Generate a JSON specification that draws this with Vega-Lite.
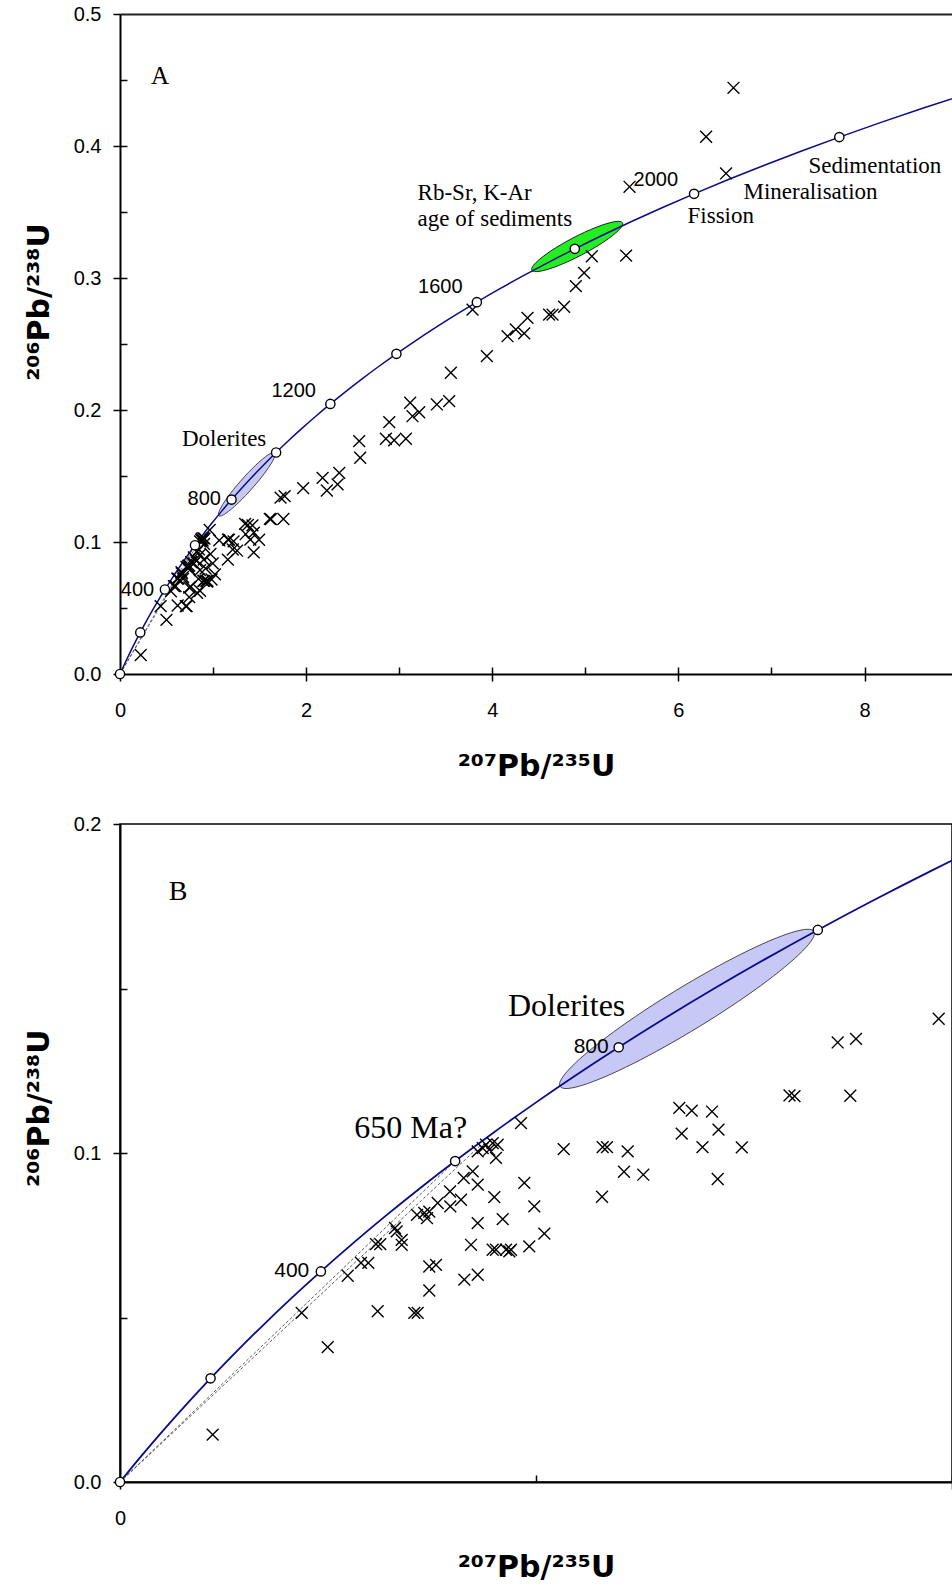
{
  "$schema": "https://vega.github.io/schema/vega-lite/v6.json",
  "background": "white",
  "padding": {"left": 23, "top": 4, "right": 0, "bottom": 0},
  "config": {
    "view": {"stroke": "black", "strokeWidth": 1.5},
    "axis": {"grid": false, "domainColor": "black", "domainWidth": 2, "tickColor": "black", "tickWidth": 1.5, "labelColor": "black", "labelFont": "Liberation Sans", "labelFontSize": 20, "labelFlush": false, "labelOverlap": false, "titleColor": "black", "titleFont": "DejaVu Sans", "titleFontSize": 30, "titleFontWeight": "bold"}
  },
  "datasets": {
    "concordia": [
      {"t":0,"x":0,"y":0},{"t":50,"x":0.050475,"y":0.007786},{"t":100,"x":0.103498,"y":0.015633},{"t":150,"x":0.159197,"y":0.023542},{"t":200,"x":0.217708,"y":0.031511},{"t":250,"x":0.279172,"y":0.039543},{"t":300,"x":0.343737,"y":0.047637},{"t":350,"x":0.411563,"y":0.055795},{"t":400,"x":0.482812,"y":0.064016},{"t":450,"x":0.557657,"y":0.0723},{"t":500,"x":0.63628,"y":0.08065},{"t":550,"x":0.71887,"y":0.089064},{"t":600,"x":0.805631,"y":0.097544},{"t":650,"x":0.89677,"y":0.10609},{"t":700,"x":0.99251,"y":0.114702},{"t":750,"x":1.093082,"y":0.123382},{"t":800,"x":1.19873,"y":0.132129},{"t":850,"x":1.309711,"y":0.140944},{"t":900,"x":1.426295,"y":0.149828},{"t":950,"x":1.548763,"y":0.158781},{"t":1000,"x":1.677409,"y":0.167804},{"t":1050,"x":1.812552,"y":0.176896},{"t":1100,"x":1.954518,"y":0.18606},{"t":1150,"x":2.103651,"y":0.195296},{"t":1200,"x":2.260302,"y":0.204603},{"t":1250,"x":2.424868,"y":0.213982},{"t":1300,"x":2.597734,"y":0.223435},{"t":1350,"x":2.779332,"y":0.232961},{"t":1400,"x":2.970095,"y":0.242562},{"t":1450,"x":3.170486,"y":0.252236},{"t":1500,"x":3.380993,"y":0.261987},{"t":1550,"x":3.602122,"y":0.271813},{"t":1600,"x":3.834416,"y":0.281715},{"t":1650,"x":4.078434,"y":0.291696},{"t":1700,"x":4.334767,"y":0.301753},{"t":1750,"x":4.60404,"y":0.311889},{"t":1800,"x":4.886905,"y":0.322105},{"t":1850,"x":5.184049,"y":0.332398},{"t":1900,"x":5.496185,"y":0.342773},{"t":1950,"x":5.824076,"y":0.353229},{"t":2000,"x":6.168524,"y":0.363766},{"t":2050,"x":6.530358,"y":0.374385},{"t":2100,"x":6.910448,"y":0.385087},{"t":2150,"x":7.309731,"y":0.395871},{"t":2200,"x":7.729174,"y":0.40674},{"t":2250,"x":8.169774,"y":0.417693},{"t":2300,"x":8.632622,"y":0.428732},{"t":2350,"x":9.11869,"y":0.439857}
    ],
    "ages": [
      {"t":0,"x":0,"y":0},{"t":200,"x":0.217708,"y":0.031511},{"t":400,"x":0.482812,"y":0.064016},{"t":600,"x":0.805631,"y":0.097544},{"t":800,"x":1.19873,"y":0.132129},{"t":1000,"x":1.677409,"y":0.167804},{"t":1200,"x":2.260302,"y":0.204603},{"t":1400,"x":2.970095,"y":0.242562},{"t":1600,"x":3.834416,"y":0.281715},{"t":1800,"x":4.886905,"y":0.322105},{"t":2000,"x":6.168524,"y":0.363766},{"t":2200,"x":7.729174,"y":0.40674}
    ],
    "dolerite": [
      {"i":0,"x":1.6683,"y":0.16736},{"i":1,"x":1.6649,"y":0.16511},{"i":2,"x":1.6408,"y":0.16141},{"i":3,"x":1.5979,"y":0.15651},{"i":4,"x":1.539,"y":0.15075},{"i":5,"x":1.468,"y":0.14451},{"i":6,"x":1.3899,"y":0.13822},{"i":7,"x":1.31,"y":0.13232},{"i":8,"x":1.2337,"y":0.12719},{"i":9,"x":1.1662,"y":0.1232},{"i":10,"x":1.1121,"y":0.12061},{"i":11,"x":1.0751,"y":0.1196},{"i":12,"x":1.0577,"y":0.12024},{"i":13,"x":1.0611,"y":0.12249},{"i":14,"x":1.0852,"y":0.12619},{"i":15,"x":1.1281,"y":0.13109},{"i":16,"x":1.187,"y":0.13685},{"i":17,"x":1.258,"y":0.14309},{"i":18,"x":1.3361,"y":0.14938},{"i":19,"x":1.416,"y":0.15528},{"i":20,"x":1.4923,"y":0.16041},{"i":21,"x":1.5598,"y":0.1644},{"i":22,"x":1.6139,"y":0.16699},{"i":23,"x":1.6509,"y":0.168}
    ],
    "green": [
      {"i":0,"x":5.3996,"y":0.34182},{"i":1,"x":5.3952,"y":0.33955},{"i":2,"x":5.358,"y":0.33622},{"i":3,"x":5.2904,"y":0.33205},{"i":4,"x":5.197,"y":0.32731},{"i":5,"x":5.0842,"y":0.32234},{"i":6,"x":4.9598,"y":0.31748},{"i":7,"x":4.8321,"y":0.31305},{"i":8,"x":4.7099,"y":0.30936},{"i":9,"x":4.6015,"y":0.30665},{"i":10,"x":4.5143,"y":0.30512},{"i":11,"x":4.4542,"y":0.30487},{"i":12,"x":4.4254,"y":0.30591},{"i":13,"x":4.4298,"y":0.30817},{"i":14,"x":4.467,"y":0.3115},{"i":15,"x":4.5346,"y":0.31567},{"i":16,"x":4.628,"y":0.32041},{"i":17,"x":4.7408,"y":0.32538},{"i":18,"x":4.8652,"y":0.33024},{"i":19,"x":4.9929,"y":0.33467},{"i":20,"x":5.1151,"y":0.33836},{"i":21,"x":5.2235,"y":0.34107},{"i":22,"x":5.3107,"y":0.3426},{"i":23,"x":5.3708,"y":0.34285}
    ],
    "dashes": [
      {"g":1,"x":0,"y":0},{"g":1,"x":0.805,"y":0.0975},{"g":2,"x":0,"y":0},{"g":2,"x":0.868,"y":0.1025}
    ],
    "pts": [
      {"x":0.2228,"y":0.0144},{"x":0.4368,"y":0.0514},{"x":0.4993,"y":0.041},{"x":0.5474,"y":0.0627},{"x":0.5793,"y":0.0666},{"x":0.5969,"y":0.0666},{"x":0.6154,"y":0.0723},{"x":0.6257,"y":0.0723},{"x":0.6194,"y":0.0519},{"x":0.6611,"y":0.0772},{"x":0.6651,"y":0.0762},{"x":0.6772,"y":0.0736},{"x":0.6772,"y":0.0721},{"x":0.7075,"y":0.0514},{"x":0.7156,"y":0.0514},{"x":0.7435,"y":0.0655},{"x":0.7596,"y":0.066},{"x":0.7435,"y":0.0582},{"x":0.7139,"y":0.0812},{"x":0.7315,"y":0.0818},{"x":0.738,"y":0.0802},{"x":0.7435,"y":0.0822},{"x":0.7637,"y":0.0848},{"x":0.7933,"y":0.0883},{"x":0.794,"y":0.0838},{"x":0.8197,"y":0.0858},{"x":0.8262,"y":0.0924},{"x":0.8478,"y":0.0944},{"x":0.8599,"y":0.0904},{"x":0.8599,"y":0.1005},{"x":0.8719,"y":0.1015},{"x":0.8798,"y":0.1025},{"x":0.8877,"y":0.101},{"x":0.8959,"y":0.103},{"x":0.9079,"y":0.1025},{"x":0.9038,"y":0.0985},{"x":0.8998,"y":0.0866},{"x":0.8599,"y":0.0787},{"x":0.92,"y":0.0799},{"x":0.8438,"y":0.0721},{"x":0.8959,"y":0.0706},{"x":0.9038,"y":0.0706},{"x":0.9279,"y":0.0706},{"x":0.9358,"y":0.0701},{"x":0.9399,"y":0.0706},{"x":0.9839,"y":0.0716},{"x":0.8277,"y":0.0615},{"x":0.8599,"y":0.063},{"x":0.9639,"y":0.1091},{"x":1.0666,"y":0.1012},{"x":0.9719,"y":0.0909},{"x":0.9959,"y":0.0838},{"x":1.02,"y":0.0755},{"x":1.1603,"y":0.1018},{"x":1.1707,"y":0.1018},{"x":1.2204,"y":0.1005},{"x":1.2115,"y":0.0943},{"x":1.2579,"y":0.0934},{"x":1.1587,"y":0.0867},{"x":1.3445,"y":0.1137},{"x":1.3743,"y":0.1129},{"x":1.4231,"y":0.1126},{"x":1.3502,"y":0.1059},{"x":1.4387,"y":0.1071},{"x":1.4002,"y":0.1018},{"x":1.4947,"y":0.1017},{"x":1.4368,"y":0.0921},{"x":1.6094,"y":0.1175},{"x":1.6214,"y":0.1173},{"x":1.7555,"y":0.1174},{"x":1.7252,"y":0.1336},{"x":1.7692,"y":0.1347},{"x":1.968,"y":0.1408},
      {"x":2.57,"y":0.1764},{"x":2.581,"y":0.1638},{"x":2.893,"y":0.1908},{"x":2.857,"y":0.1782},{"x":2.946,"y":0.1771},{"x":3.072,"y":0.1782},{"x":3.118,"y":0.2055},{"x":3.143,"y":0.1953},{"x":3.215,"y":0.1983},{"x":3.405,"y":0.2042},{"x":3.537,"y":0.2067},{"x":2.177,"y":0.1486},{"x":2.356,"y":0.1524},{"x":2.223,"y":0.139},{"x":2.338,"y":0.1436},{"x":3.555,"y":0.2282},{"x":3.942,"y":0.2408},{"x":3.788,"y":0.2761},{"x":4.164,"y":0.2559},{"x":4.253,"y":0.261},{"x":4.343,"y":0.258},{"x":4.379,"y":0.2698},{"x":4.611,"y":0.2723},{"x":4.648,"y":0.2723},{"x":4.772,"y":0.2782},{"x":4.898,"y":0.2938},{"x":4.987,"y":0.3039},{"x":5.07,"y":0.3165},{"x":5.438,"y":0.317},{"x":5.475,"y":0.3691},{"x":6.298,"y":0.407},{"x":6.512,"y":0.3792},{"x":6.592,"y":0.4441}
    ],
    "labA_age_r": [
      {"x":0.368,"y":0.0635,"text":"400"},{"x":1.085,"y":0.1322,"text":"800"},{"x":2.105,"y":0.2142,"text":"1200"},{"x":3.681,"y":0.2933,"text":"1600"}
    ],
    "labA_age_l": [
      {"x":5.518,"y":0.3741,"text":"2000"}
    ],
    "labA_serif": [
      {"x":3.198,"y":0.3591,"text":"Rb-Sr, K-Ar"},{"x":3.198,"y":0.3394,"text":"age of sediments"},{"x":6.098,"y":0.3413,"text":"Fission"},{"x":6.699,"y":0.36,"text":"Mineralisation"},{"x":7.397,"y":0.3792,"text":"Sedimentation"},{"x":0.666,"y":0.1726,"text":"Dolerites"}
    ],
    "labA_letter": [
      {"x":0.333,"y":0.4466,"text":"A"}
    ],
    "labB_letter": [
      {"x":0.117,"y":0.177,"text":"B"}
    ],
    "labB_serif": [
      {"x":0.5633,"y":0.1046,"text":"650 Ma?"},{"x":0.9327,"y":0.1415,"text":"Dolerites"}
    ],
    "labB_age_r": [
      {"x":0.455,"y":0.064,"text":"400"},{"x":1.1748,"y":0.1322,"text":"800"}
    ]
  },
  "spacing": 150,
  "bounds": "flush",
  "vconcat": [
    {
      "width": 832,
      "height": 660,
      "view": {"stroke": null},
      "resolve": {"axis": {"x": "independent", "y": "independent"}},
      "encoding": {
        "x": {"field": "x", "type": "quantitative", "scale": {"domain": [0, 8.94], "nice": false, "zero": false}, "axis": null},
        "y": {"field": "y", "type": "quantitative", "scale": {"domain": [0, 0.5], "nice": false, "zero": false}, "axis": null}
      },
      "layer": [
        {
          "data": {"name": "dolerite"},
          "mark": {"type": "line", "interpolate": "cardinal-closed", "fill": "#c8c8f6", "stroke": "#202020", "strokeWidth": 0.8},
          "encoding": {
            "x": {"field": "x", "type": "quantitative", "scale": {"domain": [0, 8.94], "nice": false, "zero": false},
                  "axis": {"orient": "bottom", "values": [0, 2, 4, 6, 8], "format": "d", "tickSize": 7, "labelPadding": 19, "title": "²⁰⁷Pb/²³⁵U", "titleY": 101, "titleBaseline": "alphabetic"}},
            "y": {"field": "y", "type": "quantitative", "scale": {"domain": [0, 0.5], "nice": false, "zero": false},
                  "axis": {"orient": "left", "values": [0, 0.1, 0.2, 0.3, 0.4, 0.5], "format": ".1f", "tickSize": 7, "labelPadding": 12, "title": "²⁰⁶Pb/²³⁸U", "titleX": -72, "titleY": 287.5, "titleBaseline": "alphabetic", "titleAngle": -90, "titleAlign": "center"}},
            "order": {"field": "i", "type": "quantitative"}
          }
        },
        {
          "data": {"name": "green"},
          "mark": {"type": "line", "interpolate": "cardinal-closed", "fill": "#22ee22", "stroke": "#202020", "strokeWidth": 1},
          "encoding": {
            "x": {"field": "x", "type": "quantitative", "scale": {"domain": [0, 8.94], "nice": false, "zero": false},
                  "axis": {"orient": "bottom", "values": [2, 4, 6, 8], "tickSize": -7, "labels": false, "domain": false, "title": null}},
            "y": {"field": "y", "type": "quantitative", "scale": {"domain": [0, 0.5], "nice": false, "zero": false},
                  "axis": {"orient": "left", "values": [0.1, 0.2, 0.3, 0.4], "tickSize": -7, "labels": false, "domain": false, "title": null}},
            "order": {"field": "i", "type": "quantitative"}
          }
        },
        {
          "data": {"name": "concordia"},
          "mark": {"type": "line", "interpolate": "monotone", "color": "#0a0a8c", "strokeWidth": 1.5, "clip": true},
          "encoding": {
            "x": {"field": "x", "type": "quantitative", "scale": {"domain": [0, 8.94], "nice": false, "zero": false},
                  "axis": {"orient": "bottom", "values": [1, 3, 5, 7], "tickSize": -7, "labels": false, "domain": false, "title": null}},
            "y": {"field": "y", "type": "quantitative", "scale": {"domain": [0, 0.5], "nice": false, "zero": false},
                  "axis": {"orient": "left", "values": [0.05, 0.15, 0.25, 0.35, 0.45], "tickSize": -7, "labels": false, "domain": false, "title": null}},
            "order": {"field": "t", "type": "quantitative"}
          }
        },
        {
          "data": {"name": "dashes"},
          "mark": {"type": "line", "stroke": "#333333", "strokeWidth": 0.7, "strokeDash": [3, 2]},
          "encoding": {
            "x": {"field": "x", "type": "quantitative", "scale": {"domain": [0, 8.94], "nice": false, "zero": false},
                  "axis": {"orient": "top", "values": [], "ticks": false, "labels": false, "domain": true, "domainColor": "#222222", "domainWidth": 2, "title": null}},
            "detail": {"field": "g", "type": "nominal"}
          }
        },
        {
          "data": {"name": "pts"},
          "mark": {"type": "point", "shape": "M-1,-1L1,1M-1,1L1,-1", "filled": false, "color": "black", "strokeWidth": 1.4, "size": 140, "opacity": 1}
        },
        {
          "data": {"name": "ages"},
          "mark": {"type": "point", "shape": "circle", "filled": true, "fill": "white", "stroke": "black", "strokeWidth": 1.4, "size": 85, "opacity": 1}
        },
        {
          "data": {"name": "labA_age_r"},
          "mark": {"type": "text", "font": "Liberation Sans", "fontSize": 20, "align": "right", "baseline": "middle", "color": "black"},
          "encoding": {"text": {"field": "text", "type": "nominal"}}
        },
        {
          "data": {"name": "labA_age_l"},
          "mark": {"type": "text", "font": "Liberation Sans", "fontSize": 20, "align": "left", "baseline": "middle", "color": "black"},
          "encoding": {"text": {"field": "text", "type": "nominal"}}
        },
        {
          "data": {"name": "labA_serif"},
          "mark": {"type": "text", "font": "Liberation Serif", "fontSize": 23, "align": "left", "baseline": "alphabetic", "color": "black"},
          "encoding": {"text": {"field": "text", "type": "nominal"}}
        },
        {
          "data": {"name": "labA_letter"},
          "mark": {"type": "text", "font": "Liberation Serif", "fontSize": 25, "align": "left", "baseline": "alphabetic", "color": "black"},
          "encoding": {"text": {"field": "text", "type": "nominal"}}
        }
      ]
    },
    {
      "width": 832,
      "height": 658,
      "resolve": {"axis": {"x": "independent", "y": "independent"}},
      "encoding": {
        "x": {"field": "x", "type": "quantitative", "scale": {"domain": [0, 2], "nice": false, "zero": false}, "axis": null},
        "y": {"field": "y", "type": "quantitative", "scale": {"domain": [0, 0.2], "nice": false, "zero": false}, "axis": null}
      },
      "layer": [
        {
          "data": {"name": "dolerite"},
          "mark": {"type": "line", "interpolate": "cardinal-closed", "fill": "#c8c8f6", "stroke": "#202020", "strokeWidth": 0.8},
          "encoding": {
            "x": {"field": "x", "type": "quantitative", "scale": {"domain": [0, 2], "nice": false, "zero": false},
                  "axis": {"orient": "bottom", "values": [0, 2], "labelExpr": "datum.value == 0 ? '0' : ''", "tickSize": 7, "labelPadding": 19, "title": "²⁰⁷Pb/²³⁵U", "titleY": 94, "titleBaseline": "alphabetic"}},
            "y": {"field": "y", "type": "quantitative", "scale": {"domain": [0, 0.2], "nice": false, "zero": false},
                  "axis": {"orient": "left", "values": [0, 0.1, 0.2], "format": ".1f", "tickSize": 7, "labelPadding": 12, "title": "²⁰⁶Pb/²³⁸U", "titleX": -72, "titleY": 283.7, "titleBaseline": "alphabetic", "titleAngle": -90, "titleAlign": "center"}},
            "order": {"field": "i", "type": "quantitative"}
          }
        },
        {
          "data": {"name": "concordia"},
          "mark": {"type": "line", "interpolate": "monotone", "color": "#0a0a8c", "strokeWidth": 1.8, "clip": true},
          "encoding": {
            "x": {"field": "x", "type": "quantitative", "scale": {"domain": [0, 2], "nice": false, "zero": false},
                  "axis": {"orient": "bottom", "values": [1, 2], "tickSize": -7, "labels": false, "domain": false, "title": null}},
            "y": {"field": "y", "type": "quantitative", "scale": {"domain": [0, 0.2], "nice": false, "zero": false},
                  "axis": {"orient": "left", "values": [0.05, 0.1, 0.15], "tickSize": -7, "labels": false, "domain": false, "title": null}},
            "order": {"field": "t", "type": "quantitative"}
          }
        },
        {
          "data": {"name": "dashes"},
          "mark": {"type": "line", "stroke": "#333333", "strokeWidth": 0.8, "strokeDash": [3, 2]},
          "encoding": {"detail": {"field": "g", "type": "nominal"}}
        },
        {
          "data": {"name": "pts"},
          "transform": [{"filter": "datum.x <= 2 && datum.y <= 0.2"}],
          "mark": {"type": "point", "shape": "M-1,-1L1,1M-1,1L1,-1", "filled": false, "color": "black", "strokeWidth": 1.4, "size": 140, "opacity": 1}
        },
        {
          "data": {"name": "ages"},
          "transform": [{"filter": "datum.x <= 2"}],
          "mark": {"type": "point", "shape": "circle", "filled": true, "fill": "white", "stroke": "black", "strokeWidth": 1.4, "size": 85, "opacity": 1}
        },
        {
          "data": {"name": "labB_age_r"},
          "mark": {"type": "text", "font": "Liberation Sans", "fontSize": 21, "align": "right", "baseline": "middle", "color": "black"},
          "encoding": {"text": {"field": "text", "type": "nominal"}}
        },
        {
          "data": {"name": "labB_serif"},
          "mark": {"type": "text", "font": "Liberation Serif", "fontSize": 32, "align": "left", "baseline": "alphabetic", "color": "black"},
          "encoding": {"text": {"field": "text", "type": "nominal"}}
        },
        {
          "data": {"name": "labB_letter"},
          "mark": {"type": "text", "font": "Liberation Serif", "fontSize": 28, "align": "left", "baseline": "alphabetic", "color": "black"},
          "encoding": {"text": {"field": "text", "type": "nominal"}}
        }
      ]
    }
  ]
}
